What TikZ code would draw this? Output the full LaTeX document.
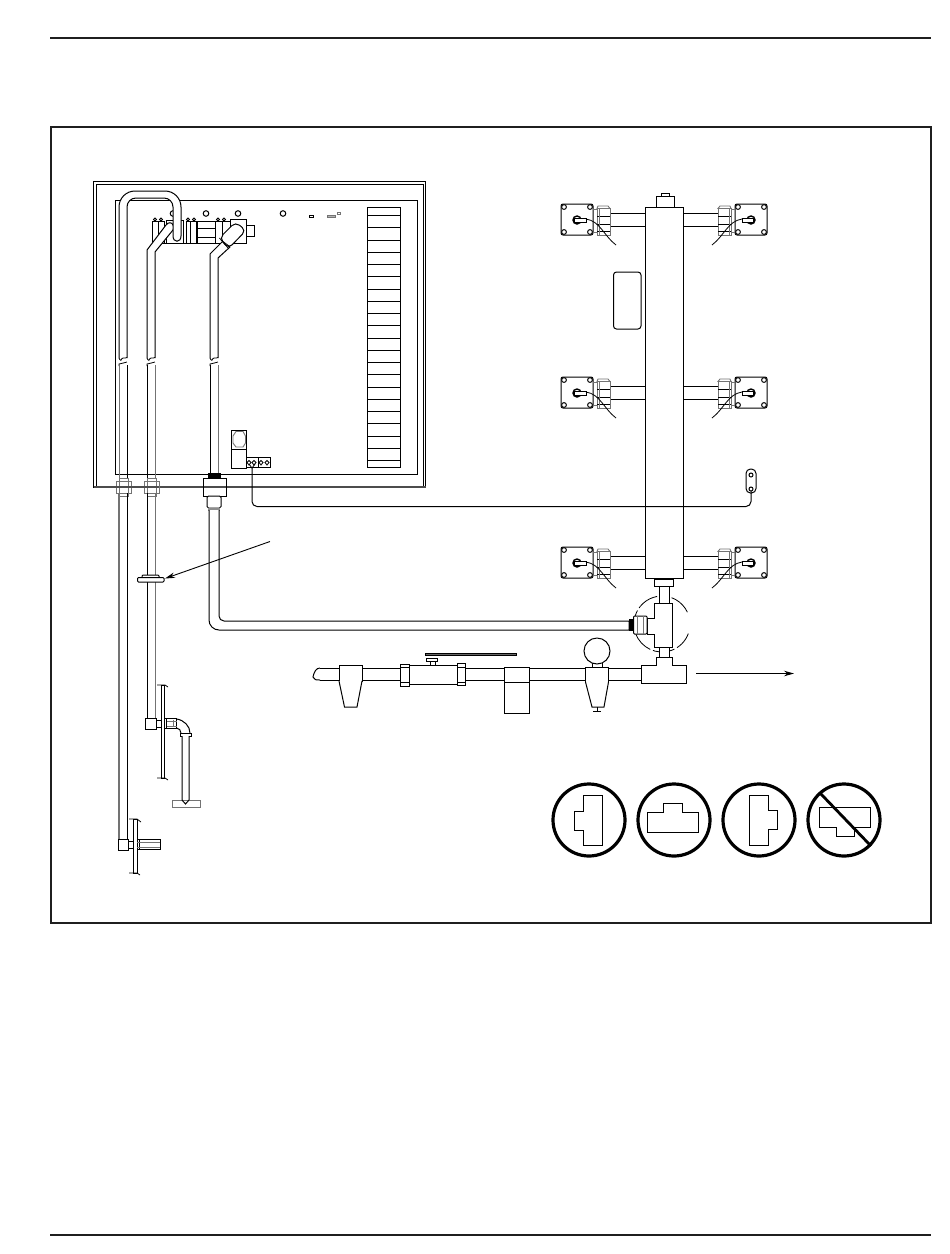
\documentclass[tikz,border=0pt]{standalone}
\usetikzlibrary{arrows.meta}
\tikzset{
  ln/.style={draw=black,line width=1pt,line join=miter},
  w/.style={ln,fill=white},
  thn/.style={draw=black,line width=0.8pt},
  hw/.style={draw=black!88,line width=2pt},
  sym/.style={draw=black,line width=3.2pt},
  gr/.style={draw=black!55,line width=0.9pt},
  lead/.style={draw=black,line width=0.9pt,-{Stealth[length=10pt,width=5.5pt]}}
}
\newcommand{\brkmark}[1]{%
  \draw[thn] (#1,358) .. controls (#1+1,361) and (#1+3,361) .. (#1+3,358.5) .. controls (#1+3,357) and (#1+5,359) .. (#1+8,357.5);
  \draw[thn] (#1,366) -- (#1,364) .. controls (#1+2,362.5) and (#1+5,364) .. (#1+8,362);
}
\newcommand{\valveunit}[3]{%
  \begin{scope}[shift={(#1,#2)},xscale=#3]
    \draw[w] (610,213) rectangle (645,226);
    \draw[w,rounded corners=2pt] (561,204) rectangle (593,235);
    \foreach \hx/\hy in {564/207,590/207,564/232,590/232}{\draw[ln,fill=white] (\hx,\hy) circle (2.4);}
    \draw[line width=1.4pt] (577,220) circle (4);
    \draw[w] (574.5,218) rectangle (586,222);
    \draw[gr,fill=white] (597,208.5) rectangle (610,235);
    \draw[gr,fill=white] (598,206) -- (608,206) -- (610,208.5) -- (597,208.5) -- cycle;
    \draw[gr] (593,209) -- (597,209);
    \draw[gr] (593,232) -- (597,232);
    \draw[ln] (597,216.5) -- (610,216.5);
    \draw[ln] (597,224) -- (610,224);
    \draw[ln] (597,231) -- (610,231);
    \draw[gr] (599,208.5) -- (599,235);
    \draw[thn] (586,219) .. controls (600,221) and (604,236) .. (616,245);
  \end{scope}
}
\begin{document}
\begin{tikzpicture}[x=1pt,y=-1pt]
\useasboundingbox (0,0) rectangle (950,1254);
\fill[white] (0,0) rectangle (950,1254);
% page rules and frame
\coordinate (ra) at (50,38); \coordinate (rb) at (931,38);
\coordinate (rc) at (50,1234.5); \coordinate (rd) at (931,1234.5);
\draw[hw] (ra) -- (rb);
\draw[hw] (rc) -- (rd);
\draw[hw] (51,127) rectangle (931,922.5);
% cabinet
\draw[ln] (93.5,181) rectangle (425.5,487.5);
\draw[ln] (96,184) rectangle (423,486);
\draw[black!70,line width=1.2pt] (93.5,487) -- (425.5,487);
\draw[ln] (115,200) rectangle (417,474);
% small parts on panel
\foreach \cx in {173,206,238,283}{\draw[ln] (\cx,213.5) circle (2.8);}
\draw[ln] (309,215) rectangle (313,217.5);
\draw[gr,fill=black!30] (327,215) rectangle (335,217.5);
\draw[gr] (337,212) rectangle (340,214);
% terminal column
\draw[ln] (367.5,207.5) rectangle (400,467);
\foreach \k in {0,...,20}{\draw[ln] (367.5,215.5+12.25*\k) -- (400,215.5+12.25*\k);}
% valve cluster
\draw[ln] (152.5,243) -- (230,243);
\foreach \a/\b in {152.5/158,158/164,186/190.5,190.5/196,215.5/222,222/230}{\draw[w] (\a,221.5) rectangle (\b,243);}
\foreach \a in {155,161,188,194,218,224}{\draw[thn] (\a,219.5) circle (1.5);}
\draw[w] (166,220.5) rectangle (183,243);
\draw[w] (197,221) rectangle (215,243);
\draw[ln] (197,228) -- (215,228);
\draw[ln] (197,237) -- (215,237);
\draw[w] (230,219.5) rectangle (246,243);
\draw[w] (246,225) rectangle (254,236);
% pipe 2
\draw[w] (147,358) -- (147,250) [rounded corners=0pt] -- (166,225)
  .. controls (168,222) and (172,222) .. (173,225) .. controls (174,227) and (174,228) .. (173,230)
  -- (155,252) -- (155,358);
% pipe 1
\draw[w] (119,358) [rounded corners=16pt] -- (119,191) -- (181,191) [sharp corners] -- (181,236)
  .. controls (181,243) and (173,243) .. (173,236) [rounded corners=9pt] -- (173,198) -- (127,198) [sharp corners] -- (127,358);
% pipe 3 and bullet fitting
\draw[w] (210,358) -- (210,254) -- (223,241) -- (230,247) -- (218,258) -- (218,358);
\draw[w,rounded corners=5pt] (219.5,238) -- (235.5,222) -- (246,230.5) -- (228.5,248.5) -- cycle;
\draw[thn] (221,240) -- (229,246);
\draw[thn] (219.5,238) -- (228.5,248.5);
% break marks and lower sections
\brkmark{119}\brkmark{147}\brkmark{210}
\draw[gr] (119,365) -- (119,481);
\draw[ln] (127,365) -- (127,481);
\draw[ln] (147,365) -- (147,481);
\draw[gr] (155,365) -- (155,481);
\draw[ln] (210,365) -- (210,473);
\draw[gr] (218,365) -- (218,473);
% cabinet gland fittings
\foreach \xa in {116,144}{
  \draw[gr,fill=white] (\xa+3,478.5) rectangle (\xa+12,496);
  \draw[gr,fill=white] (\xa,481.5) rectangle (\xa+15,493);
  \draw[gr] (\xa+3,481.5) -- (\xa+3,493);
  \draw[gr] (\xa+12,481.5) -- (\xa+12,493);
}
\draw[black!70,line width=1.2pt] (116,487) -- (159,487);
\fill[black] (208,473) rectangle (221,478);
\draw[w] (203.5,478) rectangle (226,496);
\draw[black!70,line width=1.2pt] (203.5,487) -- (226,487);
\draw[w,rounded corners=1.5pt] (207,496) rectangle (221,508);
\fill[black!45] (208,507.5) rectangle (220,510.5);
% long pipe to tee
\draw[w] (209,510) [rounded corners=10pt] -- (209,630) [sharp corners] -- (629,630) -- (629,621)
  [rounded corners=5pt] -- (219,621) [sharp corners] -- (219,510);
% left drops
\draw[gr,line width=1.1pt] (119,493) -- (119,839);
\draw[ln] (127,493) -- (127,839);
\draw[ln] (147,493) -- (147,718);
\draw[gr] (155,493) -- (155,718);
% wall clip and arrow
\draw[w,rounded corners=1pt] (142,575) rectangle (159,578);
\draw[w,rounded corners=1pt] (137.5,577.5) rectangle (164,582);
\coordinate (clipS) at (270,541.5); \coordinate (clipE) at (165,578.5);
\draw[lead] (clipS) -- (clipE);
% elbow assembly
\draw[w] (145,718) rectangle (156,729);
\draw[w] (156,720) rectangle (162,727);
\draw[w] (161.5,685) rectangle (164.5,778);
\draw[thn] (157,685) -- (165,685) -- (168,687);
\draw[thn] (157,778) -- (165,778) -- (168,780);
\draw[w] (164.5,718.5) rectangle (176.5,728.5);
\draw[ln] (166.5,718.5) -- (166.5,728.5);
\draw[gr] (173,720) -- (173,727);
\draw[gr] (166.5,721) -- (176.5,721);
\draw[gr] (166.5,726) -- (176.5,726);
\draw[ln] (176.5,719) .. controls (184,720) and (190,726) .. (190,733);
\draw[ln] (176.5,728) .. controls (179,728.5) and (181,730) .. (181,733);
\draw[w] (180,733) rectangle (191,736);
\draw[w] (182,736) -- (182,800.5) -- (185.5,804) -- (189,800.5) -- (189,736);
\draw[gr,fill=white] (172,800) rectangle (200,807);
\draw[ln] (182,800) -- (185.5,804) -- (189,800);
% lower wall assembly
\draw[w] (118,839.5) rectangle (128,850);
\draw[w] (128,841.5) rectangle (133.5,848);
\draw[w] (133.5,819) rectangle (137,873);
\draw[thn] (129,819) -- (137,819) -- (141,822);
\draw[thn] (129,873) -- (137,873) -- (140,875);
\draw[w] (137,839.5) rectangle (160,849.5);
\draw[ln] (139.5,839.5) -- (139.5,849.5);
\draw[gr] (137,842) -- (160,842);
\draw[gr] (137,847) -- (160,847);
% terminal block and lead wire
\draw[w] (231,430) rectangle (246,468);
\draw[ln] (231,449) -- (246,449);
\draw[gr] (233,436) -- (236,431.5) -- (243,431.5) -- (245.5,436) -- (245.5,443) -- (243,447) -- (236,447) -- (233,443) -- cycle;
\draw[w] (246,457.5) rectangle (270,467.5);
\draw[ln] (258,457.5) -- (258,467.5);
\foreach \dx in {249,254,261,267}{\draw[thn] (\dx,460.5) -- (\dx+2,462.5) -- (\dx,465) -- (\dx-2,462.5) -- cycle;}
\draw[thn] (249,464) -- (252,468) -- (255,464);
\draw[w,rounded corners=4.5pt] (746,469) rectangle (756,493);
\draw[ln] (751,475) circle (2);
\draw[ln] (751,489) circle (2);
% manifold pieces
\draw[w,rounded corners=3pt] (613.5,272) rectangle (641,329);
\draw[w] (656,196) rectangle (674,207);
\draw[w] (661,193) rectangle (669,196);
\draw[w] (645,207) rectangle (683,578);
\foreach \off in {0,173,343}{
  \valveunit{0}{\off}{1}
  \valveunit{1328}{\off}{-1}
}
% wire over manifold
\coordinate (wireA) at (751,491); \coordinate (wireB) at (252,468);
\draw[ln] (wireA) [rounded corners=5pt] -- (751,506.5) -- (252,506.5) [sharp corners] -- (wireB);
% dashed detail circle
\begin{scope}[thn,dash pattern=on 22pt off 3pt]
  \draw (662,624) ++(-25:28) arc (-25:-95:28);
  \draw (662,624) ++(-100:28) arc (-100:-165:28);
  \draw (662,624) ++(-200:28) arc (-200:-340:28);
\end{scope}
% tee under manifold
\draw[w] (659,586) rectangle (669,603);
\draw[w] (654,578) rectangle (673,586);
\fill[black] (654,578) rectangle (673,579.5);
\draw[w] (659,647) rectangle (669,658);
\draw[w] (654,603) -- (672,603) -- (672,647) -- (654,647) -- (654,634) -- (647,634) -- (647,618) -- (654,618) -- cycle;
\draw[w,rounded corners=1pt] (633.5,616) rectangle (647,634);
\draw[gr] (637,616) -- (637,634);
\draw[gr] (643,616) -- (643,634);
\fill[black] (629,618.5) rectangle (633,631);
% main line
\draw[ln] (320,668) -- (641,668);
\draw[ln] (320,680) -- (641,680);
\draw[ln] (320,668) .. controls (316,668) and (314,672) .. (313,677) .. controls (314,680) and (316,680) .. (320,680);
% lower tee
\draw[w] (656,657.5) -- (672,657.5) -- (672,665) -- (686,665) -- (686,683) -- (641,683) -- (641,665) -- (656,665) -- cycle;
% left strainer
\draw[w] (339,665) rectangle (362,681);
\draw[w] (339,681) -- (344.5,707) -- (357,707) -- (362,681);
% ball valve
\draw[w] (409,665) rectangle (457,684);
\draw[w] (400,664) rectangle (409,686);
\draw[w] (457,663.5) rectangle (465,685);
\draw[ln] (400,667) -- (409,667);
\draw[ln] (400,682) -- (409,682);
\draw[ln] (457,667) -- (465,667);
\draw[ln] (457,682) -- (465,682);
\draw[w] (430,658) rectangle (435,665);
\draw[w] (426,658) rectangle (437,661);
\draw[w,fill=black!60] (425,653) rectangle (516,655);
% box
\draw[w] (504,667) rectangle (529,682);
\draw[w] (504,682) rectangle (529,713);
% gauge
\draw[w] (592,662) rectangle (602,667);
\draw[w] (597,651) circle (13);
\draw[w] (585.5,667) rectangle (608.5,682);
\draw[w] (585.5,682) -- (592,707) -- (604,707) -- (608.5,682);
\draw[ln] (597,707) -- (597,711);
\draw[ln] (593,711) -- (601,711);
% flow arrow
\coordinate (flowA) at (696,673.5); \coordinate (flowB) at (794,673.5);
\draw[lead] (flowA) -- (flowB);
% orientation symbols
\foreach \cx in {589,674,759,844}{\draw[sym] (\cx,820) circle (36);}
\draw[ln] (583,795) -- (602,795) -- (602,845) -- (583,845) -- (583,830) -- (574,830) -- (574,811) -- (583,811) -- cycle;
\draw[ln] (647,812) -- (663,812) -- (663,803) -- (682,803) -- (682,812) -- (698,812) -- (698,832) -- (647,832) -- cycle;
\draw[ln] (749,795) -- (768,795) -- (768,810) -- (777,810) -- (777,829) -- (768,829) -- (768,845) -- (749,845) -- cycle;
\draw[ln] (819,807) -- (870,807) -- (870,827) -- (854,827) -- (854,836) -- (836,836) -- (836,827) -- (819,827) -- cycle;
\draw[sym,line width=2.8pt] (820,793) -- (871,846);
\end{tikzpicture}
\end{document}
